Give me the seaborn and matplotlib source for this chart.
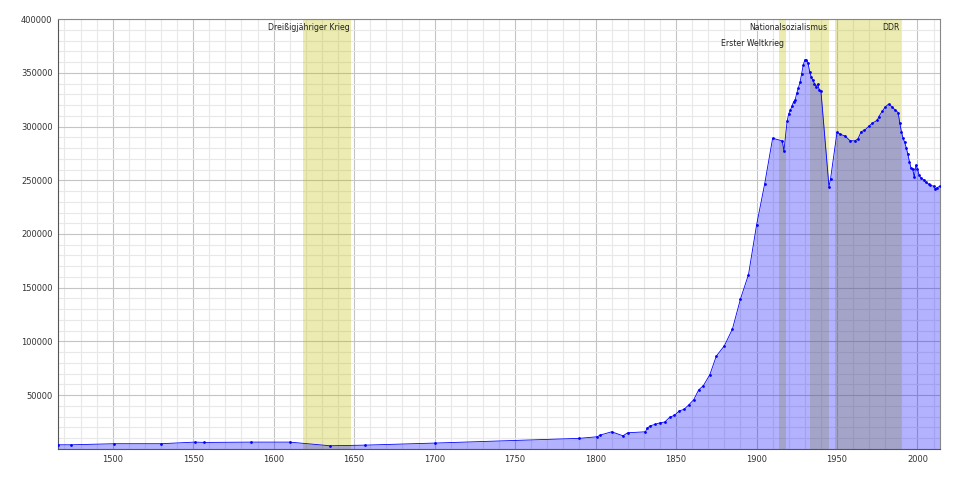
import matplotlib
matplotlib.use('Agg')
import matplotlib.pyplot as plt
import seaborn as sns
from matplotlib.ticker import MultipleLocator

# population data
years = [1466, 1474, 1501, 1530, 1551, 1557, 1586, 1610, 1635, 1657, 1700, 1790,
         1801, 1803, 1810, 1817, 1820, 1831, 1832, 1834, 1837, 1840, 1843, 1846,
         1849, 1852, 1855, 1858, 1861, 1864, 1867, 1871, 1875, 1880, 1885, 1890,
         1895, 1900, 1905, 1910, 1916, 1917, 1919, 1920, 1921, 1922, 1923, 1924,
         1925, 1926, 1927, 1928, 1929, 1930, 1931, 1932, 1933, 1934, 1935, 1936,
         1937, 1938, 1939, 1940, 1945, 1946, 1950, 1952, 1955, 1958, 1961, 1963,
         1965, 1967, 1970, 1972, 1975, 1976, 1978, 1980, 1982, 1984, 1986, 1988,
         1989, 1990, 1991, 1992, 1993, 1994, 1995, 1996, 1997, 1998, 1999, 2000,
         2001, 2002, 2004, 2005, 2007, 2008, 2010, 2011, 2012, 2014]
population = [3900, 3900, 4900, 4900, 6400, 6100, 6400, 6400, 3000, 3600, 5500, 9900,
              11400, 13000, 16000, 12300, 15100, 16000, 19200, 21600, 22900, 24400, 25100, 29500,
              31300, 35400, 36900, 41200, 45900, 54900, 59000, 69200, 86400, 96000, 111500, 139500,
              162200, 208200, 246200, 289100, 286600, 277200, 305000, 312000, 315000, 319000, 323000, 325000,
              331000, 336000, 341000, 349000, 357000, 362000, 362000, 359000, 351000, 346000, 343000, 340000,
              337000, 339500, 334000, 333000, 244000, 251500, 294700, 292800, 291200, 286900, 286600, 288500,
              295300, 296300, 300600, 303100, 305900, 309300, 314000, 318300, 320800, 318600, 315500, 313000,
              303100, 295300, 289100, 285400, 280400, 274200, 267300, 261100, 260500, 252700, 264200, 260500,
              254800, 252400, 250200, 248000, 246400, 245200, 244600, 242100, 243000, 244600]

# historical periods
period_names = ['Dreißigjähriger Krieg', 'Erster Weltkrieg', 'Nationalsozialismus', 'DDR']
period_start = [1618, 1914, 1933, 1949]
period_end = [1648, 1918, 1945, 1990]
label_row = [0, 1, 0, 0]

sns.set_style('white')
fig = plt.figure(figsize=(9.6, 4.8), dpi=100)
ax = fig.add_axes([0.0604, 0.0646, 0.9188, 0.8958])

for name, s, e, row in zip(period_names, period_start, period_end, label_row):
    ax.axvspan(s, e, color='y', alpha=0.3, lw=0, zorder=1)
    ax.annotate(name, xy=(e, 1), xycoords=('data', 'axes fraction'),
                xytext=(-1, -6 - 11.5 * row), textcoords='offset points',
                ha='right', va='center', fontsize=5.6, color='#222222')

ax.fill_between(years, population, color='blue', alpha=0.3, lw=0, zorder=2)
sns.lineplot(x=years, y=population, ax=ax, color='blue', lw=0.6,
             marker='o', markersize=2, markeredgewidth=0, zorder=3)

ax.set_xlim(years[0], years[-1])
ax.set_ylim(0, 400000)
ax.xaxis.set_major_locator(MultipleLocator(50))
ax.xaxis.set_minor_locator(MultipleLocator(10))
ax.yaxis.set_major_locator(MultipleLocator(50000))
ax.yaxis.set_minor_locator(MultipleLocator(10000))
ax.set_axisbelow(True)
ax.grid(which='major', color='#c4c4c4', lw=0.8)
ax.grid(which='minor', color='#e8e8e8', lw=0.8)
ax.tick_params(which='both', length=0, labelsize=6, labelcolor='#333333', pad=4)
ax.set_yticks(range(50000, 400001, 50000))
for side in ['left', 'bottom']:
    ax.spines[side].set_color('#555555')
for side in ['top', 'right']:
    ax.spines[side].set_color('#888888')
ax.set_xlabel('')
ax.set_ylabel('')

plt.savefig('out.png', dpi=100)
